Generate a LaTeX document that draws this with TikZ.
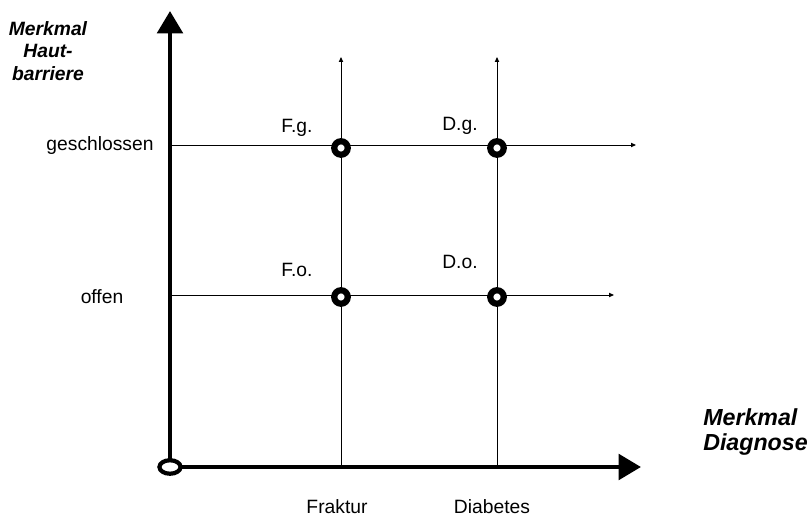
\documentclass[tikz,border=0pt]{standalone}
\usepackage{fontspec}
\setmainfont{Liberation Sans}
\usetikzlibrary{arrows.meta}
\begin{document}
\begin{tikzpicture}[x=0.025cm,y=-0.025cm,
  axis/.style={line width=3.5pt,-{Triangle[length=16pt,width=18pt]}},
  gridline/.style={line width=0.7pt,-{Triangle[length=3.5pt,width=3pt]}},
  ring/.style={draw,circle,line width=4.4pt,fill=white,inner sep=0pt,minimum size=9.6pt},
  lab/.style={font=\fontsize{13.7}{16}\selectfont},
  title/.style={font=\fontsize{13.7}{16}\selectfont\bfseries\itshape,align=center}]
  \useasboundingbox (0,0) rectangle (812,531);
  % Achsen
  \coordinate (o) at (170,467);
  \coordinate (ytop) at (170,11);
  \coordinate (xend) at (641,467);
  \draw[axis] (o) -- (ytop);
  \draw[axis] (o) -- (xend);
  % Raster
  \coordinate (fb) at (341,467);
  \coordinate (ft) at (341,57);
  \coordinate (db) at (497,467);
  \coordinate (dt) at (497,57);
  \coordinate (gs) at (172,145);
  \coordinate (ge) at (636,145);
  \coordinate (os) at (172,295);
  \coordinate (oe) at (614,295);
  \draw[gridline] (fb) -- (ft);
  \draw[gridline] (db) -- (dt);
  \draw[gridline] (gs) -- (ge);
  \draw[gridline] (os) -- (oe);
  % Kombinationen
  \node[ring] (fg) at (341,148) {};
  \node[ring] (dg) at (497,148) {};
  \node[ring] (fo) at (341,297) {};
  \node[ring, minimum height=8.5pt] (do) at (497,297) {};
  \draw[line width=3pt, fill=white] (o) ellipse [x radius=7.5pt, y radius=4.8pt];
  % Beschriftung
  \node[lab] (lfg) at (297,128) {F.g.};
  \node[lab] (ldg) at (460,126) {D.g.};
  \node[lab] (lfo) at (297,270) {F.o.};
  \node[lab] (ldo) at (460,262) {D.o.};
  \node[lab] (lgs) at (100,146) {geschlossen};
  \node[lab] (lof) at (102,297) {offen};
  \node[lab] (lfr) at (337,507) {Fraktur};
  \node[lab] (ldi) at (492,507) {Diabetes};
  \node[title] (ty) at (48,51) {Merkmal\\Haut-\\barriere};
  \node[title, font=\fontsize{16.5}{17.5}\selectfont\bfseries\itshape, align=left, anchor=west, inner sep=0pt] (tx) at (703,432) {Merkmal\\Diagnose};
\end{tikzpicture}
\end{document}
